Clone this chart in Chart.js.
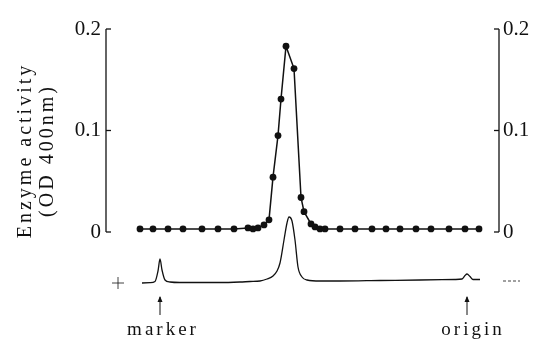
<!DOCTYPE html>
<html lang="en">
<head>
  <meta charset="UTF-8" />
  <title>Enzyme activity</title>
  <style>
    html, body { margin: 0; padding: 0; background: #fff; }
    #chart { display: block; }
  </style>
</head>
<body>
  <canvas id="chart" width="535" height="349"></canvas>

  <script src="https://cdn.jsdelivr.net/npm/chart.js"></script>
  <script>
    // migration distance of each fraction (same units as the x axis)
    const distance = [140, 153, 168, 183, 202, 218, 234, 248, 253, 258, 264, 269, 273, 278, 281, 286,
                      294, 301, 304, 311, 315, 320, 325, 340, 355, 372, 386, 400, 416, 431, 449, 465, 479];
    // enzyme activity (OD 400nm)
    const activity = [0.003, 0.003, 0.003, 0.003, 0.003, 0.003, 0.003, 0.004, 0.003, 0.004, 0.007, 0.012,
                      0.054, 0.095, 0.131, 0.183, 0.161, 0.034, 0.020, 0.008, 0.005, 0.003, 0.003, 0.003,
                      0.003, 0.003, 0.003, 0.003, 0.003, 0.003, 0.003, 0.003, 0.003];

    // densitometer trace of the gel (arbitrary units)
    const traceX = [142, 150, 155, 158, 160, 162, 165, 170, 180, 200, 220, 240, 250, 260, 267, 273, 277,
                    280, 284, 287, 289, 292, 295, 298, 302, 307, 320, 340, 380, 420, 455, 462, 465, 467,
                    470, 473, 480];
    const traceY = [0, 0.3, 1.5, 12, 24, 13, 3, 1, 0.5, 0.5, 0.5, 1, 1.5, 2, 4, 7, 12,
                    20, 43, 60, 66, 62, 43, 16, 6, 3, 2, 2, 2.5, 3, 3.5, 4, 7.5, 9,
                    6.5, 3.5, 3.5];

    const yTicks = [0, 0.1, 0.2];
    const yLabel = ['Enzyme activity', '(OD 400nm)'];
    const markers = [{ at: 160, text: 'marker', dx: 3 }, { at: 467, text: 'origin', dx: 6 }];

    const ink = '#111';
    const serif = "'Liberation Serif', 'DejaVu Serif', serif";

    const yAxis = (position) => ({
      position: position,
      min: -0.067,
      max: 0.2,
      afterBuildTicks: s => { s.ticks = yTicks.map(v => ({ value: v })); },
      afterFit: s => { s.width = position === 'left' ? 106 : 36; },
      grid: { display: false, drawTicks: false },
      border: { display: false },
      ticks: {
        color: ink,
        padding: position === 'left' ? 5 : 4,
        font: { family: serif, size: 21 },
        callback: v => v === 0 ? '0' : v.toFixed(1)
      }
    });

    // axis lines only between 0 and 0.2, with short inward ticks
    const axisLines = {
      id: 'axisLines',
      afterDraw(chart) {
        const ctx = chart.ctx;
        const area = chart.chartArea;
        ctx.save();
        ctx.strokeStyle = ink;
        ctx.lineWidth = 1.3;
        [['y', area.left, 1], ['y2', area.right, -1]].forEach(([id, x, dir]) => {
          const s = chart.scales[id];
          const top = s.getPixelForValue(0.2), bottom = s.getPixelForValue(0);
          ctx.beginPath();
          ctx.moveTo(x, top);
          ctx.lineTo(x, bottom);
          ctx.stroke();
          yTicks.forEach(v => {
            const y = s.getPixelForValue(v);
            ctx.beginPath();
            ctx.moveTo(x, y);
            ctx.lineTo(x + dir * 5, y);
            ctx.stroke();
          });
        });

        // y title, rotated
        ctx.fillStyle = ink;
        ctx.font = '20px ' + serif;
        ctx.textAlign = 'center';
        ctx.textBaseline = 'middle';
        ctx.letterSpacing = '3px';
        const mid = (chart.scales.y.getPixelForValue(0.2) + chart.scales.y.getPixelForValue(0)) / 2 + 20;
        yLabel.forEach((t, i) => {
          ctx.save();
          ctx.translate(26 + i * 22, mid);
          ctx.rotate(-Math.PI / 2);
          ctx.fillText(t, 0, 0);
          ctx.restore();
        });

        // marker / origin arrows and labels under the trace
        const base = chart.scales.yT.getPixelForValue(0);
        const xs = chart.scales.x;
        ctx.font = '19px ' + serif;
        markers.forEach(m => {
          const x = xs.getPixelForValue(m.at);
          ctx.beginPath();
          ctx.lineWidth = 1;
          ctx.moveTo(x, base + 32);
          ctx.lineTo(x, base + 14);
          ctx.stroke();
          ctx.beginPath();
          ctx.moveTo(x - 2.5, base + 19);
          ctx.lineTo(x, base + 13);
          ctx.lineTo(x + 2.5, base + 19);
          ctx.closePath();
          ctx.fill();
          ctx.textBaseline = 'alphabetic';
          ctx.fillText(m.text, x + m.dx, base + 52);
        });

        // alignment marks at both ends of the trace
        ctx.letterSpacing = '0px';
        ctx.lineWidth = 0.8;
        ctx.beginPath();
        ctx.moveTo(area.left + 6, base);
        ctx.lineTo(area.left + 18, base);
        ctx.moveTo(area.left + 12, base - 6);
        ctx.lineTo(area.left + 12, base + 6);
        ctx.stroke();
        ctx.setLineDash([3, 2]);
        ctx.beginPath();
        ctx.moveTo(area.right + 4, base - 2);
        ctx.lineTo(area.right + 21, base - 2);
        ctx.stroke();
        ctx.restore();
      }
    };

    new Chart(document.getElementById('chart'), {
      type: 'line',
      data: {
        datasets: [
          {
            data: distance.map((d, i) => ({ x: d, y: activity[i] })),
            yAxisID: 'y',
            borderColor: ink,
            borderWidth: 1.5,
            pointRadius: 3.4,
            pointBackgroundColor: ink,
            pointBorderColor: ink,
            pointBorderWidth: 0,
            tension: 0
          },
          {
            data: traceX.map((d, i) => ({ x: d, y: traceY[i] })),
            yAxisID: 'yT',
            borderColor: ink,
            borderWidth: 1.3,
            pointRadius: 0,
            cubicInterpolationMode: 'monotone'
          }
        ]
      },
      options: {
        responsive: false,
        animation: false,
        layout: { padding: { top: 29, bottom: 49, left: 0, right: 0 } },
        plugins: { legend: { display: false }, tooltip: { enabled: false } },
        scales: {
          x: { type: 'linear', min: 106, max: 499, display: false },
          y: yAxis('left'),
          y2: yAxis('right'),
          yT: { display: false, min: -17, max: 254 }
        }
      },
      plugins: [axisLines]
    });
  </script>
</body>
</html>
